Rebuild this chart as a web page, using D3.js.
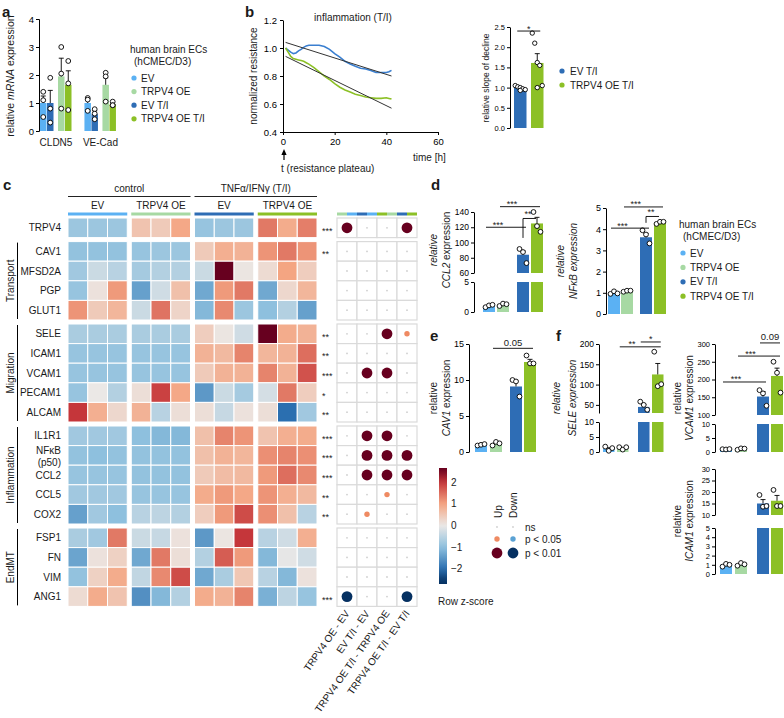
<!DOCTYPE html>
<html>
<head>
<meta charset="utf-8">
<script src="https://cdn.jsdelivr.net/npm/d3@7"></script>
<style>
  body { margin: 0; background: #fff; }
</style>
</head>
<body>
<svg id="fig" width="784" height="718"></svg>
<script>
// ---------------- data ----------------
const groups = ["EV", "TRPV4 OE", "EV T/I", "TRPV4 OE T/I"];
const groupColors = ["#5bb1f3", "#a7d9a3", "#2e6db5", "#8cc026"];

// a - qPCR, bars in group order
const genesA = ["CLDN5", "VE-Cad"];
const meanA = [[1.0, 1.95, 1.0, 1.65], [1.0, 1.65, 0.6, 0.95]];
const semA = [[0.25, 0.65, 0.45, 0.5], [0.15, 0.25, 0.12, 0.05]];
const ptsA = [
  [[1.4, 1.1, 0.5], [3.0, 2.05, 0.8], [1.9, 0.8, 0.3], [2.5, 1.7, 0.75]],
  [[1.18, 1.12, 0.72], [2.08, 1.95, 1.05], [0.78, 0.62, 0.42], [1.05, 0.92, 0.92]]
];

// b - resistance curves
const timeB = [1, 2, 3, 4, 5, 6, 7, 8, 9, 10, 12, 14, 16, 18, 20, 22, 24, 26, 28, 30, 32, 34, 36, 38, 40, 41, 42];
const resEV = [1.0, 0.985, 0.97, 0.96, 0.965, 0.98, 0.99, 1.005, 1.015, 1.02, 1.02, 1.02, 1.01, 0.99, 0.96, 0.935, 0.905, 0.885, 0.87, 0.855, 0.85, 0.84, 0.825, 0.825, 0.825, 0.83, 0.84];
const resOE = [1.0, 0.97, 0.94, 0.925, 0.92, 0.915, 0.91, 0.905, 0.895, 0.885, 0.86, 0.83, 0.8, 0.775, 0.745, 0.72, 0.7, 0.685, 0.67, 0.66, 0.65, 0.645, 0.64, 0.64, 0.645, 0.64, 0.635];
const fitEV = [[1, 1.04], [42, 0.80]];
const fitOE = [[1, 0.94], [42, 0.57]];
const slopeMean = [0.99, 1.61];
const slopeSem = [0.02, 0.23];
const slopePts = [[1.05, 1.02, 1.0, 0.97, 0.95, 0.93], [2.35, 2.1, 1.62, 1.55, 1.05, 1.0]];

// c - heatmap (row z-scores) and contrast dots
const rows = ["TRPV4", "CAV1", "MFSD2A", "PGP", "GLUT1", "SELE", "ICAM1", "VCAM1", "PECAM1", "ALCAM",
  "IL1R1", "NFκB (p50)", "CCL2", "CCL5", "COX2", "FSP1", "FN", "VIM", "ANG1"];
const rowBlock = [0, 1, 1, 1, 1, 2, 2, 2, 2, 2, 3, 3, 3, 3, 3, 4, 4, 4, 4];
const blockNames = ["", "Transport", "Migration", "Inflammation", "EndMT"];
const zScores = [
  [-0.85, -0.85, -0.85, 0.55, 0.45, 0.95, -0.9, -0.85, -0.85, 1.4, 0.9, 1.35],
  [-0.95, -0.95, -0.95, -0.9, -0.85, -0.85, 0.45, 0.85, 0.8, 1.15, 1.4, 1.15],
  [-0.8, -0.35, -0.55, -0.75, -0.6, -0.6, -0.35, 2.6, 0.05, 0.2, 1.0, 0.4],
  [-0.9, 0.1, 1.1, -1.4, -0.3, 0.6, -1.3, 1.1, 1.4, -1.3, 0.25, 0.75],
  [1.15, 0.45, 0.75, -0.35, 1.45, 0.3, -1.1, 1.25, -0.85, -1.0, -0.6, -1.4],
  [-0.7, -0.7, -0.7, -0.7, -0.7, -0.7, 0.4, 0.05, -0.3, 2.6, 0.9, 0.8],
  [-0.9, -0.9, -0.9, -0.9, -0.9, -0.9, 0.8, 0.7, 1.3, 0.75, 0.8, 1.5],
  [-0.9, -0.9, -0.9, -0.9, -0.9, -0.9, 0.45, 0.8, 0.8, 1.3, 0.8, 1.75],
  [-0.9, 0.0, -0.6, 0.15, 1.9, 0.95, -1.5, -0.35, -0.75, -0.25, 1.4, 0.4],
  [2.0, 0.85, 0.25, 0.8, -0.55, 0.15, 0.15, -0.4, 0.1, 0.15, -2.0, -0.8],
  [-0.8, -0.8, -0.8, -1.0, -1.1, -1.1, 0.6, 1.3, 1.15, 0.55, 0.85, 0.9],
  [-0.95, -1.0, -0.95, -0.95, -0.95, -0.95, 0.6, 0.8, 0.75, 1.2, 1.3, 1.2],
  [-0.9, -0.9, -0.9, -0.95, -0.95, -0.95, 0.45, 0.65, 0.7, 1.1, 1.5, 1.25],
  [-0.8, -0.8, -0.8, -0.9, -0.9, -0.9, 0.9, 1.1, 0.95, 1.15, 0.85, 0.7],
  [-1.4, -0.8, -1.0, -0.55, -0.5, -0.6, 0.4, 1.1, 1.8, 1.2, 0.6, -0.55],
  [-0.7, -0.8, 1.4, -0.35, -0.4, 0.1, -1.5, 0.05, 2.0, -0.55, -0.3, 0.85],
  [-1.35, 0.1, 0.35, -1.3, 1.4, 0.15, -0.6, 1.65, 1.1, -1.1, -0.05, -0.3],
  [-0.95, 0.35, 0.9, -0.45, 1.25, 1.8, -1.3, -0.7, 0.5, -0.55, -1.1, 0.1],
  [0.2, 0.9, 0.55, -1.6, -1.1, -0.6, 0.9, 0.8, 1.3, -1.2, -0.5, -0.9]
];
const rowStars = ["***", "**", "", "", "", "**", "**", "***", "*", "**", "***", "***", "***", "**", "**", "", "", "", "***"];
const contrasts = ["TRPV4 OE - EV", "EV T/I - EV", "TRPV4 OE T/I - TRPV4 OE", "TRPV4 OE T/I - EV T/I"];
const contrastPairs = [[1, 0], [2, 0], [3, 1], [2, 3]];
// 2 = up p<0.01, 1 = up p<0.05, 0 = ns, -1 / -2 = down
const contrastSig = [
  [2, 0, 0, 2], [0, 0, 0, 0], [0, 0, 0, 0], [0, 0, 0, 0], [0, 0, 0, 0],
  [0, 0, 2, 1], [0, 0, 0, 0], [0, 2, 2, 0], [0, 0, 0, 0], [0, 0, 0, 0],
  [0, 2, 2, 0], [0, 2, 2, 2], [0, 2, 2, 2], [0, 0, 1, 0], [0, 1, 0, 0],
  [0, 0, 0, 0], [0, 0, 0, 0], [0, 0, 0, 0], [-2, 0, 0, -2]
];
// colour ramp of the heatmap key
const keyStops = [-2.6, -2, -1, 0, 1, 2, 2.6];
const keyColors = ["#053061", "#2b6fb0", "#8ec0de", "#ebe8e6", "#f4a582", "#c5363a", "#67001f"];

// d-f - qPCR with broken axes
const ccl2Mean = [1.0, 1.15, 84, 125], ccl2Sem = [0.1, 0.1, 5, 8];
const ccl2Pts = [[0.8, 1.1, 1.2], [1.0, 1.4, 1.3], [91.5, 87.5, 73], [140, 121.5, 114]];
const nfkbMean = [1.0, 1.08, 3.62, 4.3], nfkbSem = [0.04, 0.02, 0.18, 0.03];
const nfkbPts = [[0.95, 1.07, 0.97], [1.05, 1.1, 1.1], [3.95, 3.75, 3.33], [4.25, 4.35, 4.35]];
const cav1Mean = [1.0, 1.15, 9.1, 12.5], cav1Sem = [0.05, 0.15, 0.75, 0.37];
const cav1Pts = [[0.9, 1.0, 1.1], [0.9, 1.4, 1.2], [10.0, 9.8, 7.7], [13.4, 12.3, 12.3]];
const seleMean = [1.0, 1.0, 45, 125], seleSem = [0.4, 0.3, 6, 27];
const selePts = [[1.8, 0.4, 1.3], [1.6, 0.8, 1.6], [58, 50, 38], [181, 96, 101]];
const vcamMean = [1.0, 1.1, 152, 210], vcamSem = [0.05, 0.12, 14, 22];
const vcamPts = [[1.0, 0.9, 1.05], [0.8, 1.3, 1.2], [170, 161, 126], [250, 219, 163]];
const icamMean = [1.0, 1.0, 15.0, 16.2], icamSem = [0.05, 0.08, 1.7, 2.3];
const icamPts = [[0.8, 1.1, 1.0], [0.9, 1.2, 1.05], [18.7, 13.6, 13.9], [20.9, 13.9, 13.9]];

// ---------------- helpers ----------------
const FONT = "'Liberation Sans', Arial, Helvetica, sans-serif";
const svg = d3.select("#fig").attr("font-family", FONT).attr("fill", "#1a1a1a");

function txt(g, x, y, s, o = {}) {
  const t = g.append("text").attr("x", x).attr("y", y).text(s)
    .attr("font-size", o.size || 10).attr("text-anchor", o.anchor || "start");
  if (o.weight) t.attr("font-weight", o.weight);
  if (o.italic) t.attr("font-style", "italic");
  return t;
}

// rotated axis title; parts = [[text, italic], ...]
function vlabel(g, x, y, parts, size = 10, anchor = "middle") {
  const t = g.append("text").attr("transform", `translate(${x},${y}) rotate(-90)`)
    .attr("text-anchor", anchor).attr("font-size", size);
  parts.forEach(p => t.append("tspan").text(p[0]).attr("font-style", p[1] ? "italic" : "normal"));
  return t;
}

function legendBlock(g, x, y, dy) {
  txt(g, x, y, "human brain ECs");
  txt(g, x + 4, y + 11.5, "(hCMEC/D3)");
  groups.forEach((name, i) => {
    const cy = y + 25 + i * dy;
    g.append("circle").attr("cx", x + 4).attr("cy", cy).attr("r", 2.6).attr("fill", groupColors[i]);
    txt(g, x + 11, cy + 3.6, name);
  });
}

function barChart(g, c) {
  const segs = c.segs.map(s => Object.assign({}, s, {
    y: d3.scaleLinear().domain([s.lo, s.hi]).range([s.y0, s.y1])
  }));
  segs.forEach(s => {
    g.append("g").attr("transform", `translate(${c.axisX},0)`)
      .call(d3.axisLeft(s.y).tickValues(s.ticks).tickSize(3).tickSizeOuter(0).tickPadding(2)
        .tickFormat(c.fmt || d3.format("d")))
      .attr("font-family", FONT).attr("font-size", c.tickSize || 9);
  });
  const dist = (v, s) => v < s.lo ? s.lo - v : (v > s.hi ? v - s.hi : 0);
  const segOf = v => segs.reduce((a, b) => dist(v, b) < dist(v, a) ? b : a);
  const cx = i => c.barX[i] + c.barW / 2;
  c.mean.forEach((m, i) => {
    const col = c.colors ? c.colors[i] : groupColors[i];
    segs.forEach(s => {
      if (m <= s.lo) return;
      const top = Math.min(m, s.hi);
      g.append("rect").attr("x", c.barX[i]).attr("width", c.barW)
        .attr("y", s.y(top)).attr("height", s.y(s.lo) - s.y(top)).attr("fill", col);
    });
    const s = segOf(m);
    const yt = s.y(m + c.sem[i]);
    g.append("path").attr("d", `M${cx(i)},${s.y(m)}V${yt}M${cx(i) - 2.5},${yt}H${cx(i) + 2.5}`)
      .attr("stroke", "#000").attr("stroke-width", 0.9).attr("fill", "none");
  });
  c.mean.forEach((m, i) => {
    c.pts[i].forEach((p, k) => {
      g.append("circle").attr("cx", cx(i) + (c.off ? c.off[k] : 0)).attr("cy", segOf(p).y(p))
        .attr("r", c.r || 2.4).attr("fill", "#fff").attr("stroke", "#000").attr("stroke-width", 0.9);
    });
  });
  return { segOf, cx };
}

function sig(g, ch, a, b, v, label, frac = 0.5) {
  const x1 = ch.cx(a) - 3, x2 = ch.cx(b) + 3, y = ch.segOf(v).y(v);
  g.append("line").attr("x1", x1).attr("x2", x2).attr("y1", y).attr("y2", y)
    .attr("stroke", "#000").attr("stroke-width", 0.9);
  const star = label.startsWith("*");
  txt(g, x1 + (x2 - x1) * frac, star ? y + 0.5 : y - 2.5, label, { size: star ? 9 : 9.5, anchor: "middle" });
}

function bracket(g, ch, a, b, vTop, vLow, label) {
  const s = ch.segOf(vTop), x1 = ch.cx(a), x2 = ch.cx(b) - 1;
  g.append("path").attr("d", `M${x1},${s.y(vLow)}V${s.y(vTop)}H${x2}`)
    .attr("stroke", "#000").attr("stroke-width", 0.9).attr("fill", "none");
  txt(g, x1 + 5, s.y(vTop) - 1, label, { size: 9, anchor: "middle" });
}

// ---------------- panel a ----------------
const ga = svg.append("g");
txt(ga, 2, 17, "a", { size: 15, weight: "bold" });
vlabel(ga, 14, 76, [["relative "], ["mRNA", true], [" expression"]], 10.5);
const geneX = d3.scaleBand().domain(genesA).range([40, 120]).paddingInner(0.2);
genesA.forEach((gene, gi) => {
  const x0 = geneX(gene);
  const offs = [0, 18, 7, 25];
  barChart(ga, {
    axisX: 39, barX: offs.map(o => x0 + o), barW: 6.5,
    segs: [{ lo: 0, hi: 4, y0: 131, y1: 19, ticks: gi === 0 ? [0, 1, 2, 3, 4] : [] }],
    mean: meanA[gi], sem: semA[gi], pts: ptsA[gi], tickSize: 9.5
  });
  txt(ga, x0 + 16, 146, gene, { anchor: "middle" });
});
legendBlock(ga, 130, 53, 13.6);

// ---------------- panel b ----------------
const gb = svg.append("g");
txt(gb, 245, 17, "b", { size: 15, weight: "bold" });
const xB = d3.scaleLinear().domain([0, 60]).range([283, 438]);
const yB = d3.scaleLinear().domain([0.4, 1.2]).range([132, 20]);
gb.append("g").attr("transform", "translate(0,132)")
  .call(d3.axisBottom(xB).tickValues([0, 20, 40, 60]).tickSize(3).tickSizeOuter(0))
  .attr("font-family", FONT).attr("font-size", 9.5);
gb.append("g").attr("transform", "translate(283,0)")
  .call(d3.axisLeft(yB).tickValues([0.4, 0.6, 0.8, 1.0, 1.2]).tickFormat(d3.format(".1f")).tickSize(3).tickSizeOuter(0))
  .attr("font-family", FONT).attr("font-size", 9.5);
vlabel(gb, 257, 76, [["normalized resistance"]], 10);
txt(gb, 353, 21, "inflammation (T/I)", { anchor: "middle" });
txt(gb, 413, 161, "time [h]");
const lineB = d3.line().x(d => xB(d[0])).y(d => yB(d[1]));
gb.append("path").datum(timeB.map((t, i) => [t, resEV[i]])).attr("d", lineB)
  .attr("fill", "none").attr("stroke", "#3a7fd0").attr("stroke-width", 1.6);
gb.append("path").datum(timeB.map((t, i) => [t, resOE[i]])).attr("d", lineB)
  .attr("fill", "none").attr("stroke", "#8cc026").attr("stroke-width", 1.6);
[fitEV, fitOE].forEach(f => gb.append("path").datum(f).attr("d", lineB)
  .attr("fill", "none").attr("stroke", "#333").attr("stroke-width", 1));
// plateau arrow
const ax0 = xB(0) + 1;
gb.append("path").attr("d", `M${ax0},160V153`).attr("stroke", "#000").attr("stroke-width", 1.2);
gb.append("path").attr("d", `M${ax0 - 2.6},155L${ax0},149L${ax0 + 2.6},155Z`).attr("fill", "#000");
txt(gb, 281, 172, "t (resistance plateau)");

// b inset bars
const slopeCh = barChart(gb, {
  axisX: 510, barX: [514, 531], barW: 12.5, colors: [groupColors[2], groupColors[3]],
  segs: [{ lo: 0, hi: 2.5, y0: 128, y1: 27, ticks: [0, 0.5, 1, 1.5, 2, 2.5] }],
  fmt: d3.format(".1f"), tickSize: 7.5,
  mean: slopeMean, sem: slopeSem, pts: slopePts, off: [-5, -2.5, 0, 2.5, 5, 0], r: 2.2
});
vlabel(gb, 489, 78, [["relative slope of decline"]], 8.5);
sig(gb, slopeCh, 0, 1, 2.4, "*");
[["EV T/I", 2], ["TRPV4 OE T/I", 3]].forEach((d, i) => {
  gb.append("circle").attr("cx", 562).attr("cy", 71 + i * 14).attr("r", 2.6).attr("fill", groupColors[d[1]]);
  txt(gb, 570, 74.6 + i * 14, d[0]);
});

// ---------------- panel c ----------------
const gc = svg.append("g");
txt(gc, 3, 190, "c", { size: 15, weight: "bold" });
const rowH = 19.6, rowGap = 4, colW = 19.75, colGap = 4, hmX = 68, hmY = 218;
const yRow = d3.scaleBand().domain(d3.range(rows.length)).range([0, rows.length * rowH]);
const rowTop = i => hmY + yRow(i) + rowBlock[i] * rowGap;
const xCol = d3.scaleBand().domain(d3.range(12)).range([0, 12 * colW]);
const colLeft = j => hmX + xCol(j) + Math.floor(j / 3) * colGap;
const zColor = d3.scaleLinear().domain(keyStops).range(keyColors).clamp(true);

zScores.forEach((row, i) => row.forEach((z, j) => {
  gc.append("rect").attr("x", colLeft(j)).attr("y", rowTop(i))
    .attr("width", colW).attr("height", rowH).attr("fill", zColor(z))
    .attr("stroke", "#fff").attr("stroke-width", 1);
}));

// row labels
rows.forEach((r, i) => {
  const cy = rowTop(i) + rowH / 2;
  if (r.includes("(")) {
    const [a, b] = r.split(" ");
    txt(gc, 61, cy - 1, a, { anchor: "end" });
    txt(gc, 61, cy + 10.5, b, { anchor: "end" });
  } else {
    txt(gc, 61, cy + 3.6, r, { anchor: "end" });
  }
  if (rowStars[i]) txt(gc, 322, cy + 6, rowStars[i], { size: 9 });
});

// block brackets
blockNames.forEach((name, b) => {
  if (!name) return;
  const idx = rows.map((r, i) => i).filter(i => rowBlock[i] === b);
  const y0 = rowTop(idx[0]) + 1, y1 = rowTop(idx[idx.length - 1]) + rowH - 1;
  gc.append("line").attr("x1", 17.5).attr("x2", 17.5).attr("y1", y0).attr("y2", y1)
    .attr("stroke", "#000").attr("stroke-width", 1);
  vlabel(gc, 14, (y0 + y1) / 2, [[name]], 10);
});

// column headers
const grpSpan = g => [colLeft(g * 3), colLeft(g * 3 + 2) + colW];
[["control", 0, 1], ["TNFα/IFNγ (T/I)", 2, 3]].forEach(h => {
  const x0 = grpSpan(h[1])[0], x1 = grpSpan(h[2])[1];
  txt(gc, (x0 + x1) / 2, 192, h[0], { anchor: "middle" });
  gc.append("line").attr("x1", x0).attr("x2", x1).attr("y1", 196.5).attr("y2", 196.5)
    .attr("stroke", "#222").attr("stroke-width", 1);
});
["EV", "TRPV4 OE", "EV", "TRPV4 OE"].forEach((name, g) => {
  const [x0, x1] = grpSpan(g);
  txt(gc, (x0 + x1) / 2, 209, name, { anchor: "middle" });
  gc.append("rect").attr("x", x0).attr("y", 212.5).attr("width", x1 - x0).attr("height", 3)
    .attr("fill", groupColors[g]);
});

// contrast dot plot
const dpW = 20;
const xDp = d3.scaleBand().domain(d3.range(4)).range([337, 337 + 4 * dpW]);
const dotColor = { 2: "#67001f", 1: "#ef8a62", 0: "#cfcfcf", "-1": "#5aa2d4", "-2": "#053061" };
const dotR = { 2: 5.4, 1: 2.7, 0: 0.9, "-1": 2.7, "-2": 5.4 };
contrastSig.forEach((row, i) => row.forEach((s, j) => {
  gc.append("rect").attr("x", xDp(j)).attr("y", rowTop(i)).attr("width", dpW).attr("height", rowH)
    .attr("fill", "#fff").attr("stroke", "#dadada").attr("stroke-width", 1.2);
}));
contrastSig.forEach((row, i) => row.forEach((s, j) => {
  gc.append("circle").attr("cx", xDp(j) + dpW / 2).attr("cy", rowTop(i) + rowH / 2)
    .attr("r", dotR[s]).attr("fill", dotColor[s]);
}));
contrastPairs.forEach((p, j) => p.forEach((g, k) => {
  gc.append("rect").attr("x", xDp(j) + k * dpW / 2).attr("y", 212.5).attr("width", dpW / 2).attr("height", 3)
    .attr("fill", groupColors[g]);
}));
const labY = rowTop(rows.length - 1) + rowH + 7;
contrasts.forEach((name, j) => {
  gc.append("text").attr("transform", `translate(${xDp(j) + dpW / 2 + 3},${labY}) rotate(-55)`)
    .attr("text-anchor", "end").attr("font-size", 10).text(name);
});

// colour key
const defs = svg.append("defs");
const grad = defs.append("linearGradient").attr("id", "zgrad").attr("x1", 0).attr("y1", 0).attr("x2", 0).attr("y2", 1);
const zTop = 2.65, zBot = -2.7;
d3.range(0, 1.0001, 0.05).forEach(f => {
  grad.append("stop").attr("offset", f).attr("stop-color", zColor(zTop + (zBot - zTop) * f));
});
const yKey = d3.scaleLinear().domain([zBot, zTop]).range([584, 468]);
gc.append("rect").attr("x", 439).attr("y", yKey(zTop)).attr("width", 8).attr("height", yKey(zBot) - yKey(zTop))
  .attr("fill", "url(#zgrad)");
[2, 1, 0, -1, -2].forEach(z => txt(gc, 451, yKey(z) + 3.5, z < 0 ? "−" + Math.abs(z) : String(z), { size: 10 }));
txt(gc, 438, 605, "Row z-score");

// significance key
vlabel(gc, 502, 518, [["Up"]], 10, "start");
vlabel(gc, 517, 518, [["Down"]], 10, "start");
[[0, "ns", 527], [1, "p < 0.05", 539], [2, "p < 0.01", 553]].forEach(k => {
  gc.append("circle").attr("cx", 497).attr("cy", k[2]).attr("r", dotR[k[0]]).attr("fill", dotColor[k[0]]);
  gc.append("circle").attr("cx", 513).attr("cy", k[2]).attr("r", dotR[-k[0]]).attr("fill", dotColor[-k[0]]);
  txt(gc, 525, k[2] + 3.6, k[1]);
});

// ---------------- panel d ----------------
const gd = svg.append("g");
txt(gd, 431, 190, "d", { size: 15, weight: "bold" });
vlabel(gd, 437, 250, [["relative", true]], 10);
vlabel(gd, 450, 250, [["CCL2", true], [" expression"]], 10);
const ccl2 = barChart(gd, {
  axisX: 474, barX: [483, 497, 517, 531], barW: 12,
  segs: [{ lo: 0, hi: 5, y0: 312, y1: 282, ticks: [0, 5] },
         { lo: 60, hi: 140, y0: 273, y1: 212, ticks: [60, 80, 100, 120, 140] }],
  mean: ccl2Mean, sem: ccl2Sem, pts: ccl2Pts, off: [-3.5, 0, 3.5], tickSize: 8.5
});
sig(gd, ccl2, 1, 3, 147, "***", 0.3);
sig(gd, ccl2, 0, 2, 120, "***", 0.3);
bracket(gd, ccl2, 2, 3, 131.5, 106, "**");

vlabel(gd, 564, 261, [["relative", true]], 10);
vlabel(gd, 577, 261, [["NFκB expression", true]], 10);
const nfkb = barChart(gd, {
  axisX: 606, barX: [608, 621, 640, 654], barW: 12,
  segs: [{ lo: 0, hi: 5, y0: 314, y1: 208, ticks: [0, 1, 2, 3, 4, 5] }],
  mean: nfkbMean, sem: nfkbSem, pts: nfkbPts, off: [-3.5, 0, 3.5]
});
sig(gd, nfkb, 1, 3, 5.05, "***", 0.3);
sig(gd, nfkb, 0, 2, 4.05, "***", 0.3);
bracket(gd, nfkb, 2, 3, 4.6, 4.3, "**");
legendBlock(gd, 679, 228, 14.4);

// ---------------- panel e ----------------
const ge = svg.append("g");
txt(ge, 430, 341, "e", { size: 15, weight: "bold" });
vlabel(ge, 437, 398, [["relative"]], 10);
vlabel(ge, 450, 398, [["CAV1", true], [" expression"]], 10);
const cav1 = barChart(ge, {
  axisX: 469, barX: [475, 490, 510, 524], barW: 12,
  segs: [{ lo: 0, hi: 15, y0: 452, y1: 344, ticks: [0, 5, 10, 15] }],
  mean: cav1Mean, sem: cav1Sem, pts: cav1Pts, off: [-3.5, 0, 3.5]
});
sig(ge, cav1, 1, 3, 14.4, "0.05");

// ---------------- panel f ----------------
const gf = svg.append("g");
txt(gf, 556, 341, "f", { size: 15, weight: "bold" });
vlabel(gf, 560, 398, [["relative", true]], 10);
vlabel(gf, 576, 398, [["SELE expression", true]], 10);
const sele = barChart(gf, {
  axisX: 599, barX: [603, 617, 638, 652], barW: 11.5,
  segs: [{ lo: 0, hi: 10, y0: 452, y1: 422, ticks: [0, 5, 10] },
         { lo: 30, hi: 200, y0: 413, y1: 344, ticks: [50, 100, 150, 200] }],
  mean: seleMean, sem: seleSem, pts: selePts, off: [-3.5, 0, 3.5], tickSize: 8.5
});
sig(gf, sele, 1, 3, 193, "**", 0.3);
sig(gf, sele, 2, 3, 205, "*");

vlabel(gf, 681, 398, [["relative"]], 10);
vlabel(gf, 693, 398, [["VCAM1", true], [" expression"]], 10);
const vcam = barChart(gf, {
  axisX: 715, barX: [720, 735, 757, 771], barW: 12,
  segs: [{ lo: 0, hi: 10, y0: 452, y1: 424, ticks: [0, 5, 10] },
         { lo: 100, hi: 300, y0: 415, y1: 344, ticks: [100, 150, 200, 250, 300] }],
  mean: vcamMean, sem: vcamSem, pts: vcamPts, off: [-3.5, 0, 3.5], tickSize: 7.5
});
sig(gf, vcam, 0, 2, 193, "***", 0.3);
sig(gf, vcam, 1, 3, 266, "***", 0.3);
sig(gf, vcam, 2, 3, 303, "0.09");

vlabel(gf, 681, 521, [["relative"]], 10);
vlabel(gf, 693, 521, [["ICAM1", true], [" expression"]], 10);
barChart(gf, {
  axisX: 715, barX: [720, 735, 757, 771], barW: 12,
  segs: [{ lo: 0, hi: 5, y0: 574, y1: 528, ticks: [0, 1, 2, 3, 4, 5] },
         { lo: 10, hi: 30, y0: 515, y1: 469, ticks: [10, 15, 20, 25, 30] }],
  mean: icamMean, sem: icamSem, pts: icamPts, off: [-3.5, 0, 3.5], tickSize: 7.5
});
</script>
</body>
</html>
